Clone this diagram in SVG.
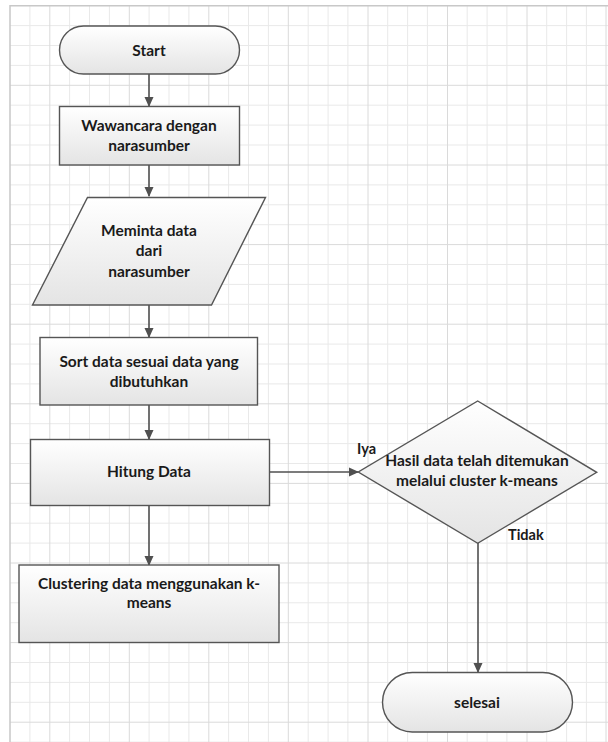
<svg xmlns="http://www.w3.org/2000/svg" width="608" height="742" viewBox="0 0 608 742">
<style>
.minor{stroke:#e9e9e9;stroke-width:1;fill:none}
.major{stroke:#dadada;stroke-width:1;fill:none}
.shape{fill:url(#g);stroke:#555;stroke-width:1.4}
.t{font-family:Lato,"Open Sans",sans-serif;font-weight:bold;font-size:15.5px;fill:#1a1a1a;text-anchor:middle}
.lbl{font-family:Lato,"Open Sans",sans-serif;font-weight:bold;font-size:14.5px;fill:#1a1a1a}
.c{stroke:#505050;stroke-width:1.6;fill:none;marker-end:url(#a)}
</style>
<defs>
<linearGradient id="g" x1="0" y1="0" x2="0" y2="1">
<stop offset="0" stop-color="#ffffff"/>
<stop offset="1" stop-color="#e4e4e4"/>
</linearGradient>
<marker id="a" markerWidth="10" markerHeight="10" refX="9" refY="5" orient="auto" markerUnits="userSpaceOnUse">
<path d="M0,0.5 L10,5 L0,9.5 Z" fill="#505050"/>
</marker>
</defs>
<rect x="0" y="0" width="608" height="742" fill="#fff"/>
<g id="grid">
<path class="minor" d="M29.9,5.7V742M69.6,5.7V742M89.5,5.7V742M109.4,5.7V742M149.1,5.7V742M169,5.7V742M188.9,5.7V742M228.6,5.7V742M248.5,5.7V742M268.4,5.7V742M308.2,5.7V742M328.1,5.7V742M347.9,5.7V742M387.7,5.7V742M407.6,5.7V742M427.4,5.7V742M467.2,5.7V742M487.1,5.7V742M506.9,5.7V742M546.7,5.7V742M566.6,5.7V742M586.4,5.7V742M10,25.6H608M10,45.5H608M10,65.4H608M10,105.2H608M10,125.1H608M10,145H608M10,184.9H608M10,204.8H608M10,224.7H608M10,264.5H608M10,284.4H608M10,304.3H608M10,344.1H608M10,364H608M10,383.9H608M10,423.7H608M10,443.6H608M10,463.5H608M10,503.3H608M10,523.2H608M10,543.1H608M10,582.9H608M10,602.8H608M10,622.7H608M10,662.5H608M10,682.4H608M10,702.3H608M10,742.1H608"/>
<path class="major" d="M49.8,5.7V742M129.3,5.7V742M208.8,5.7V742M288.3,5.7V742M368,5.7V742M447.5,5.7V742M527,5.7V742M606,5.7V742M10,85.3H608M10,165H608M10,244.6H608M10,324.2H608M10,403.8H608M10,483.4H608M10,563H608M10,642.6H608M10,722.2H608"/>
<path d="M10,742V5.7H608" stroke="#c8c8c8" stroke-width="1.5" fill="none"/>
</g>
<g id="connectors">
<path class="c" d="M149,74V106"/>
<path class="c" d="M149,165V196"/>
<path class="c" d="M149,305V337"/>
<path class="c" d="M149,405V439"/>
<path class="c" d="M149,506V565"/>
<path class="c" d="M269,472H358"/>
<path class="c" d="M478,543V672"/>
</g>
<g id="start">
<rect class="shape" x="59.5" y="26" width="180" height="48" rx="24"/>
<text class="t" x="149" y="55.5">Start</text>
</g>
<g id="wawancara">
<rect class="shape" x="59.5" y="106.5" width="180" height="58.5"/>
<text class="t" x="149" y="131">Wawancara dengan</text>
<text class="t" x="149" y="151">narasumber</text>
</g>
<g id="meminta">
<polygon class="shape" points="87.5,197.5 265.5,197.5 211.5,305 32.5,305"/>
<text class="t" x="149" y="235.5">Meminta data</text>
<text class="t" x="149" y="256">dari</text>
<text class="t" x="149" y="276.5">narasumber</text>
</g>
<g id="sort">
<rect class="shape" x="40" y="337.5" width="217.5" height="67.5"/>
<text class="t" x="149" y="367">Sort data sesuai data yang</text>
<text class="t" x="149" y="387">dibutuhkan</text>
</g>
<g id="hitung">
<rect class="shape" x="30.5" y="439.5" width="239" height="66"/>
<text class="t" x="149" y="477">Hitung Data</text>
</g>
<g id="clustering">
<rect class="shape" x="19" y="565" width="260" height="77.5"/>
<text class="t" x="149" y="588.5">Clustering data menggunakan k-</text>
<text class="t" x="149" y="608">means</text>
</g>
<g id="decision">
<polygon class="shape" points="477.7,401 596.7,472.3 477.7,543.3 358.3,472"/>
<text class="t" x="477" y="466">Hasil data telah ditemukan</text>
<text class="t" x="477" y="486">melalui cluster k-means</text>
<text class="lbl" x="357" y="453.5">Iya</text>
<text class="lbl" x="508" y="539.5">Tidak</text>
</g>
<g id="selesai">
<rect class="shape" x="382.5" y="672.5" width="190" height="59.5" rx="29.75"/>
<text class="t" x="477" y="707.5">selesai</text>
</g>
</svg>
